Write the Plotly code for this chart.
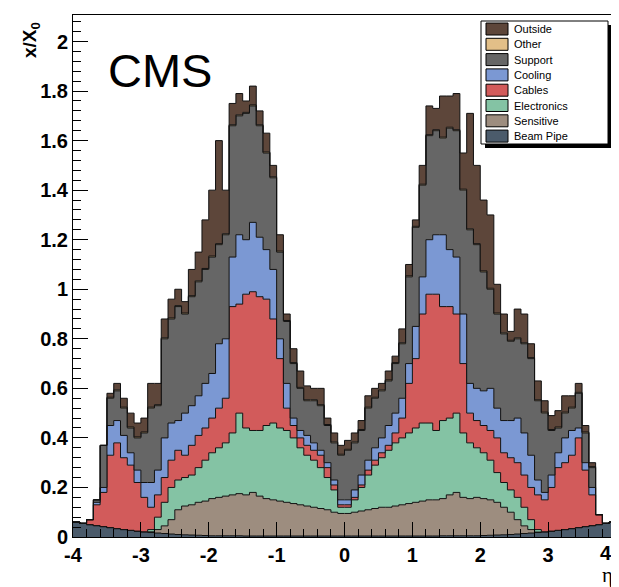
import numpy as np
import plotly.graph_objects as go

# ---------------- data (upper edge of each stacked layer, per eta bin of width 0.1) -------------
eta_edges = np.round(np.linspace(-4.0, 4.0, 81), 2)

top_beampipe = [0.060, 0.055, 0.050, 0.046, 0.042, 0.038, 0.034, 0.030, 0.027, 0.024,
                0.021, 0.018, 0.016, 0.014, 0.012, 0.010, 0.009, 0.008, 0.007, 0.006,
                0.005, 0.005, 0.005, 0.005, 0.005, 0.004, 0.004, 0.004, 0.004, 0.004,
                0.004, 0.004, 0.004, 0.004, 0.004, 0.004, 0.004, 0.004, 0.004, 0.004,
                0.004, 0.004, 0.004, 0.004, 0.004, 0.004, 0.004, 0.004, 0.004, 0.004,
                0.004, 0.004, 0.004, 0.004, 0.005, 0.005, 0.005, 0.005, 0.005, 0.005,
                0.006, 0.007, 0.008, 0.009, 0.010, 0.012, 0.014, 0.016, 0.018, 0.021,
                0.024, 0.027, 0.030, 0.034, 0.038, 0.042, 0.046, 0.050, 0.055, 0.060]

top_sensitive = [0.060, 0.055, 0.050, 0.046, 0.042, 0.038, 0.034, 0.030, 0.027, 0.024,
                 0.021, 0.021, 0.030, 0.045, 0.070, 0.110, 0.125, 0.130, 0.140, 0.145,
                 0.155, 0.160, 0.165, 0.170, 0.175, 0.170, 0.180, 0.165, 0.155, 0.150,
                 0.145, 0.140, 0.135, 0.130, 0.125, 0.120, 0.115, 0.110, 0.100, 0.095,
                 0.095, 0.100, 0.105, 0.110, 0.115, 0.120, 0.120, 0.125, 0.130, 0.135,
                 0.140, 0.145, 0.150, 0.150, 0.155, 0.170, 0.180, 0.160, 0.155, 0.160,
                 0.155, 0.150, 0.140, 0.120, 0.100, 0.070, 0.045, 0.030, 0.020, 0.021,
                 0.024, 0.027, 0.030, 0.034, 0.038, 0.042, 0.046, 0.050, 0.055, 0.060]

top_electronics = [0.060, 0.055, 0.050, 0.046, 0.042, 0.038, 0.034, 0.030, 0.027, 0.024,
                   0.021, 0.030, 0.080, 0.140, 0.200, 0.230, 0.240, 0.250, 0.280, 0.310,
                   0.340, 0.360, 0.380, 0.420, 0.500, 0.440, 0.430, 0.430, 0.450, 0.460,
                   0.440, 0.430, 0.400, 0.360, 0.330, 0.310, 0.280, 0.240, 0.190, 0.120,
                   0.120, 0.150, 0.200, 0.250, 0.290, 0.320, 0.350, 0.380, 0.400, 0.420,
                   0.440, 0.460, 0.460, 0.430, 0.470, 0.480, 0.500, 0.420, 0.380, 0.360,
                   0.340, 0.310, 0.260, 0.220, 0.190, 0.160, 0.120, 0.070, 0.030, 0.021,
                   0.024, 0.027, 0.030, 0.034, 0.038, 0.042, 0.046, 0.050, 0.055, 0.060]

top_cables = [0.060, 0.055, 0.070, 0.130, 0.180, 0.330, 0.380, 0.320, 0.290, 0.220,
              0.160, 0.120, 0.170, 0.240, 0.310, 0.350, 0.330, 0.370, 0.410, 0.440,
              0.480, 0.520, 0.560, 0.930, 0.940, 0.980, 0.990, 0.970, 0.960, 0.880,
              0.720, 0.520, 0.450, 0.400, 0.370, 0.350, 0.330, 0.280, 0.210, 0.130,
              0.130, 0.160, 0.210, 0.270, 0.310, 0.340, 0.370, 0.420, 0.480, 0.620,
              0.720, 0.900, 0.980, 0.980, 0.930, 0.930, 0.900, 0.700, 0.500, 0.470,
              0.450, 0.430, 0.400, 0.340, 0.320, 0.300, 0.250, 0.200, 0.170, 0.150,
              0.200, 0.280, 0.300, 0.330, 0.400, 0.270, 0.170, 0.090, 0.055, 0.060]

top_cooling = [0.060, 0.055, 0.070, 0.140, 0.200, 0.450, 0.470, 0.410, 0.340, 0.270,
               0.220, 0.220, 0.270, 0.400, 0.460, 0.470, 0.500, 0.530, 0.570, 0.620,
               0.660, 0.780, 0.800, 1.130, 1.220, 1.200, 1.270, 1.210, 1.160, 1.080,
               0.800, 0.620, 0.480, 0.430, 0.410, 0.380, 0.350, 0.300, 0.230, 0.150,
               0.150, 0.190, 0.250, 0.310, 0.360, 0.400, 0.450, 0.500, 0.560, 0.700,
               0.850, 1.050, 1.200, 1.220, 1.220, 1.160, 1.130, 0.900, 0.620, 0.600,
               0.590, 0.600, 0.520, 0.470, 0.470, 0.480, 0.420, 0.330, 0.230, 0.180,
               0.250, 0.340, 0.400, 0.430, 0.440, 0.300, 0.200, 0.090, 0.055, 0.060]

top_support = [0.060, 0.055, 0.070, 0.150, 0.370, 0.560, 0.590, 0.520, 0.440, 0.400,
               0.420, 0.520, 0.530, 0.800, 0.880, 0.930, 0.900, 0.970, 1.030, 1.080,
               1.130, 1.180, 1.220, 1.660, 1.700, 1.710, 1.740, 1.660, 1.550, 1.450,
               1.150, 0.870, 0.700, 0.600, 0.550, 0.550, 0.530, 0.450, 0.380, 0.330,
               0.350, 0.380, 0.430, 0.520, 0.560, 0.590, 0.630, 0.700, 0.780, 1.050,
               1.250, 1.420, 1.620, 1.640, 1.610, 1.650, 1.640, 1.400, 1.240, 1.180,
               1.070, 1.000, 0.900, 0.820, 0.790, 0.800, 0.780, 0.720, 0.550, 0.500,
               0.430, 0.440, 0.500, 0.520, 0.580, 0.420, 0.280, 0.090, 0.055, 0.060]

other_values = [0.0] * 5 + [0.004] * 35 + [0.004] * 37 + [0.0] * 3

top_total = [0.060, 0.055, 0.070, 0.150, 0.370, 0.580, 0.620, 0.560, 0.500, 0.460,
             0.480, 0.620, 0.620, 0.880, 0.960, 1.000, 0.950, 1.080, 1.150, 1.280,
             1.400, 1.600, 1.400, 1.750, 1.790, 1.760, 1.820, 1.720, 1.630, 1.500,
             1.220, 0.900, 0.760, 0.670, 0.610, 0.600, 0.600, 0.480, 0.420, 0.370,
             0.390, 0.420, 0.470, 0.570, 0.600, 0.620, 0.670, 0.730, 0.840, 1.100,
             1.280, 1.500, 1.740, 1.730, 1.780, 1.780, 1.790, 1.550, 1.710, 1.500,
             1.360, 1.300, 1.020, 0.900, 0.830, 0.920, 0.900, 0.780, 0.630, 0.550,
             0.490, 0.510, 0.570, 0.570, 0.620, 0.450, 0.300, 0.090, 0.055, 0.060]

layer_names = ["Beam Pipe", "Sensitive", "Electronics", "Cables", "Cooling", "Support", "Other", "Outside"]
layer_colors = ["#4b5b6b", "#9d8d7f", "#84c3a4", "#d25b5b", "#7b98d3", "#666666", "#e2bf88", "#5d463a"]

y_ticks = [0, 0.2, 0.4, 0.6, 0.8, 1, 1.2, 1.4, 1.6, 1.8, 2]
y_tick_labels = ["0", "0.2", "0.4", "0.6", "0.8", "1", "1.2", "1.4", "1.6", "1.8", "2"]
x_ticks = [-4, -3, -2, -1, 0, 1, 2, 3, 4]
x_tick_labels = ["-4", "-3", "-2", "-1", "0", "1", "2", "3", "4"]

# ---------------- build stacked step layers -------------
other_top = (np.array(top_support) + np.array(other_values)).tolist()
layer_tops = [top_beampipe, top_sensitive, top_electronics, top_cables,
              top_cooling, top_support, other_top, top_total]

fig = go.Figure()
for i, (name, col, tops) in enumerate(zip(layer_names, layer_colors, layer_tops)):
    fig.add_trace(go.Scatter(
        x=eta_edges, y=list(tops) + [tops[-1]],
        mode="lines", line=dict(shape="hv", color="#111111", width=1),
        fill="tozeroy" if i == 0 else "tonexty", fillcolor=col,
        name=name, showlegend=False, hoverinfo="skip"))

# ---------------- layout geometry (window pixels; the page has an 8px body margin) -------------
OFF = 8
FW, FH = 619 - OFF, 587 - OFF
L, R, T, B = 73, 616, 15, 537
W, H = R - L, B - T
def px(x):
    return (x - L) / W
def py(y):
    return (B - y) / H

tickfont = dict(family="Liberation Sans, Arial, sans-serif", size=20, color="black", weight="bold")

fig.update_layout(
    width=FW, height=FH,
    margin=dict(l=L - OFF, r=OFF + FW - R, t=T - OFF, b=OFF + FH - B, pad=0),
    paper_bgcolor="white", plot_bgcolor="white",
    showlegend=False,
    xaxis=dict(range=[-4, 4], tickvals=x_ticks[:-1], ticktext=x_tick_labels[:-1],
               automargin=False,
               ticks="inside", ticklen=15, tickwidth=1, tickcolor="black",
               minor=dict(dtick=0.2, tick0=-4, ticks="inside", ticklen=8, tickcolor="black", tickwidth=1),
               showline=True, linecolor="black", linewidth=1, mirror=True,
               showgrid=False, zeroline=False, tickfont=tickfont),
    yaxis=dict(range=[0, 2.107], tickvals=y_ticks, ticktext=y_tick_labels,
               automargin=False,
               ticks="inside", ticklen=15, tickwidth=1, tickcolor="black",
               minor=dict(dtick=0.04, tick0=0, ticks="inside", ticklen=8, tickcolor="black", tickwidth=1),
               showline=True, linecolor="black", linewidth=1, mirror=True,
               showgrid=False, zeroline=False, tickfont=tickfont),
)

shapes = []
# major tick at eta = 4 (its label is placed just inside the canvas, as in the original)
shapes.append(dict(type="line", xref="x", yref="paper", x0=x_ticks[-1], x1=x_ticks[-1],
                   y0=0, y1=15 / H, line=dict(color="black", width=1)))
# right frame edge (reddish in the original)
shapes.append(dict(type="line", xref="paper", yref="paper", x0=1, x1=1, y0=0, y1=1,
                   line=dict(color="#e00000", width=1)))
# legend box with shadow
lx0, lx1, ly0, ly1 = 481, 608, 21, 144
shapes.append(dict(type="rect", xref="paper", yref="paper",
                   x0=px(lx0 + 4), x1=px(lx1 + 4), y0=py(ly1 + 4), y1=py(ly0 + 4),
                   fillcolor="black", line=dict(width=0)))
shapes.append(dict(type="rect", xref="paper", yref="paper",
                   x0=px(lx0), x1=px(lx1), y0=py(ly1), y1=py(ly0),
                   fillcolor="white", line=dict(color="black", width=1)))

annotations = []
legend_order = list(range(len(layer_names)))[::-1]
for k, idx in enumerate(legend_order):
    yc = 29 + k * 15.3
    shapes.append(dict(type="rect", xref="paper", yref="paper",
                       x0=px(486), x1=px(508), y0=py(yc + 6), y1=py(yc - 6),
                       fillcolor=layer_colors[idx], line=dict(color="black", width=1)))
    annotations.append(dict(xref="paper", yref="paper", x=px(512), y=py(yc),
                            xanchor="left", yanchor="middle", showarrow=False,
                            text=layer_names[idx],
                            font=dict(family="Liberation Sans, Arial, sans-serif", size=11, color="black")))

# last x tick label, shifted inside the canvas
annotations.append(dict(xref="paper", yref="paper", x=px(606), y=py(553),
                        xanchor="center", yanchor="middle", showarrow=False, text=x_tick_labels[-1],
                        font=tickfont))
annotations.append(dict(xref="paper", yref="paper", x=px(160), y=py(70),
                        xanchor="center", yanchor="middle", showarrow=False, text="CMS",
                        font=dict(family="Liberation Sans, Arial, sans-serif", size=47, color="black")))
annotations.append(dict(xref="paper", yref="paper", x=px(31), y=py(40),
                        xanchor="center", yanchor="middle", showarrow=False, textangle=-90,
                        text="x/X<sub>0</sub>",
                        font=dict(family="Liberation Sans, Arial, sans-serif", size=19, color="black", weight="bold")))
annotations.append(dict(xref="paper", yref="paper", x=px(607), y=py(575),
                        xanchor="center", yanchor="middle", showarrow=False, text="η",
                        font=dict(family="Liberation Serif, serif", size=21, color="black")))

fig.update_layout(shapes=shapes, annotations=annotations)
fig.write_html("out.html")
